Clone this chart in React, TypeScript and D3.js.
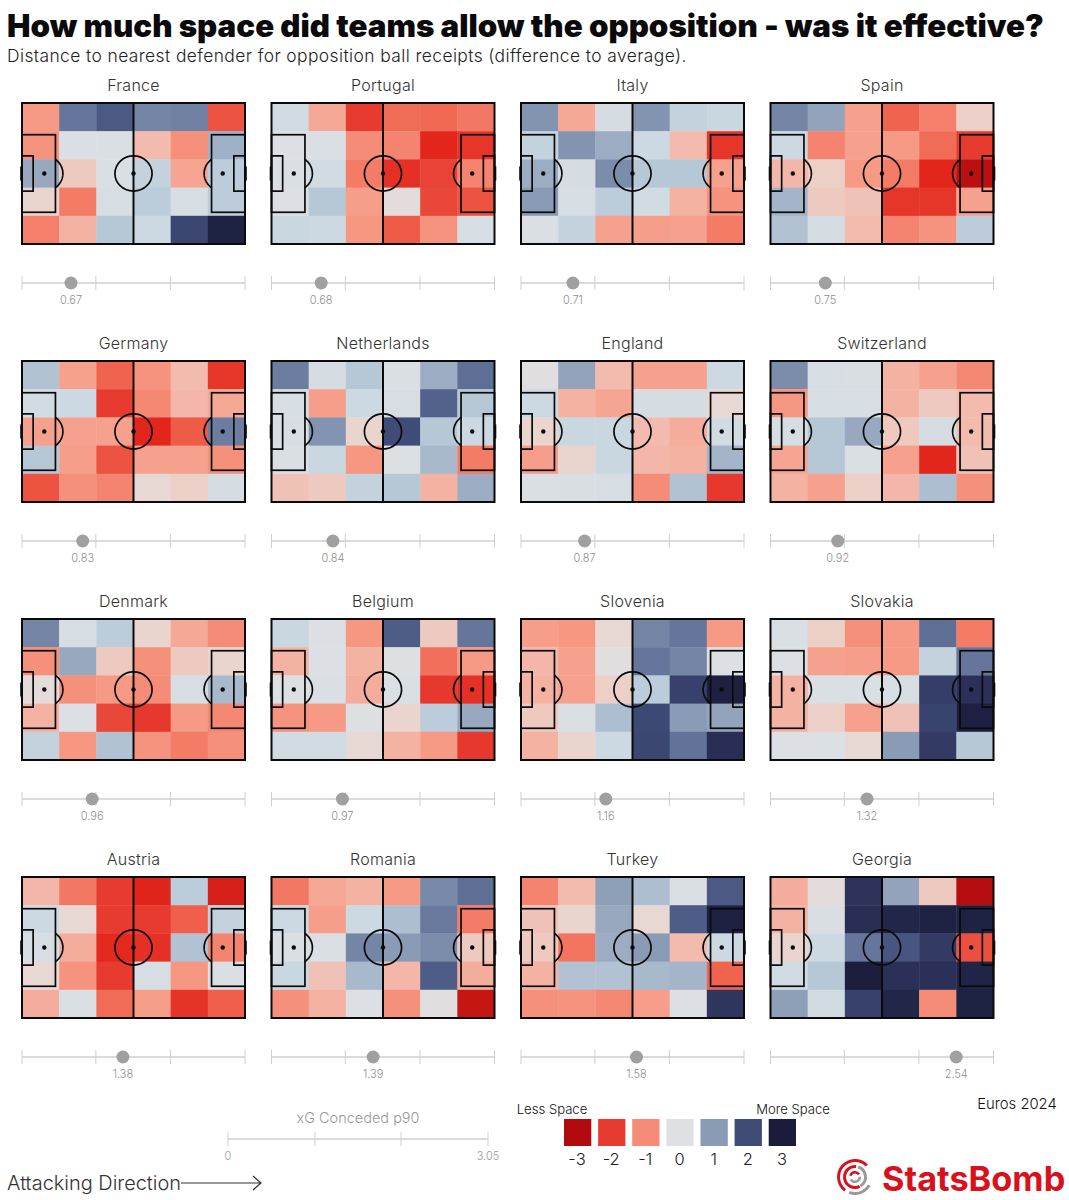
import React from "react";
import * as d3 from "d3";

const teams = ["France","Portugal","Italy","Spain","Germany","Netherlands","England","Switzerland","Denmark","Belgium","Slovenia","Slovakia","Austria","Romania","Turkey","Georgia"];
const xgConceded = [0.67,0.68,0.71,0.75,0.83,0.84,0.87,0.92,0.96,0.97,1.16,1.32,1.38,1.39,1.58,2.54];

const france = [[-0.8,1.5,1.85,1.3,1.35,-1.7],[-0.9,0.1,0.1,-0.4,-0.95,0.75],[0.85,-0.3,0.1,0.4,-0.65,0.45],[-0.2,-1.2,0.15,0.45,0.15,0.45],[-1.15,-0.5,0.5,0.3,2.1,2.85]];
const portugal = [[0.25,-0.6,-2.0,-1.4,-1.45,-1.25],[0.05,0.1,-1.0,-1.1,-2.4,-2.1],[0.1,0.25,-1.2,-2.2,-1.9,-1.1],[0.05,0.5,-0.75,-0.1,-1.85,-1.7],[0.35,0.3,-0.85,-1.6,-0.9,0.15]];
const italy = [[1.1,-0.6,0.2,1.1,0.4,0.35],[0.4,1.1,0.8,0.3,-0.4,-2.1],[0.8,0.2,1.2,0.5,0.5,-0.7],[1.0,0.15,0.45,0.25,-0.5,-0.9],[0.1,0.4,-0.7,-0.75,-0.7,-1.2]];
const spain = [[1.3,0.9,-0.7,-1.5,-1.15,-0.25],[0.3,-1.1,-0.7,-0.8,-1.4,-2.0],[-0.45,-0.25,-0.8,-1.2,-2.4,-2.9],[0.7,-0.3,-0.35,-2.1,-2.1,-0.7],[0.55,0.2,-0.4,-1.1,-0.9,0.45]];
const germany = [[0.55,-0.7,-1.5,-0.9,-0.4,-2.1],[0.25,0.3,-2.0,-1.05,-0.45,-0.6],[-0.7,-0.7,-0.7,-2.4,-1.6,1.4],[0.5,-0.75,-1.7,-0.7,-0.7,-0.95],[-1.7,-0.95,-1.1,-0.15,-0.25,0.2]];
const netherlands = [[1.4,0.2,0.5,0.1,0.8,1.6],[0.15,-0.75,0.3,0.15,1.75,0.5],[0.15,1.1,-0.2,2.0,0.5,0.3],[0.1,0.35,-0.85,0.02,0.65,-1.2],[-0.35,-0.3,0.4,0.5,-0.5,0.8]];
const england = [[-0.05,0.9,-0.4,-0.7,-0.7,0.3],[0.3,-0.5,-0.65,0.2,0.2,-0.15],[-0.2,0.35,0.35,-0.4,-0.55,0.25],[-0.75,-0.2,0.35,-0.45,-0.5,0.7],[0.1,0.12,0.15,-1.0,0.55,-2.05]];
const switzerland = [[1.2,0.15,0.12,-0.5,-0.7,-1.05],[-0.85,0.15,0.15,-0.5,-0.3,-0.4],[0.15,0.5,0.85,-0.3,0.2,-0.4],[-0.65,0.5,0.1,-0.7,-2.4,-0.35],[-0.5,-0.7,-0.25,-0.45,0.6,-0.95]];
const denmark = [[1.3,0.15,0.45,-0.2,-0.6,-1.0],[-0.95,0.85,-0.3,-0.95,-0.3,-0.2],[-0.1,-0.95,-0.8,-1.0,0.15,0.65],[-0.5,0.05,-1.85,-2.05,-0.8,-1.05],[0.4,-0.85,0.55,-0.9,-1.2,-0.95]];
const belgium = [[0.35,0.05,-0.85,1.8,-0.3,1.5],[-0.5,0.05,-0.5,0.03,-1.35,-0.8],[0.03,0.1,-0.55,0.1,-2.05,-2.2],[-0.9,-0.8,0.03,-0.2,0.45,0.85],[0.25,0.25,-0.15,-0.5,-0.8,-2.05]];
const slovenia = [[-0.75,-0.85,-0.15,1.3,1.5,-0.8],[-0.45,-0.7,-0.05,1.5,1.3,0.05],[-0.5,-0.7,-0.25,0.45,2.2,2.9],[-0.3,0.08,0.6,2.05,1.0,0.9],[-0.5,-0.2,0.3,2.1,1.55,2.55]];
const slovakia = [[0.1,-0.25,-0.95,-0.8,1.6,-1.2],[0.05,-0.7,-0.75,-0.8,0.4,1.5],[-0.5,0.1,0.1,0.15,2.25,2.5],[-0.5,-0.25,-0.7,-0.35,2.15,2.9],[0.05,0.05,-0.15,1.0,2.3,0.5]];
const austria = [[-0.45,-1.25,-2.0,-2.45,0.45,-2.55],[0.3,-0.15,-2.0,-2.0,-1.55,0.4],[0.15,-0.55,-2.35,-2.2,0.55,-1.1],[-0.15,-0.9,-2.0,0.15,-0.85,0.1],[-0.55,0.1,-1.4,-0.75,-2.15,-1.55]];
const romania = [[-1.25,-0.6,-0.5,-0.8,1.25,1.6],[0.3,-0.75,0.3,0.6,1.45,-1.2],[0.1,0.1,1.3,1.0,1.2,-0.3],[0.35,-0.35,0.65,-0.45,1.8,-0.55],[-0.95,-0.5,0.05,-0.95,-0.05,-2.75]];
const turkey = [[-1.1,-0.4,0.95,0.6,0.1,1.85],[-0.35,-0.2,0.85,-0.15,1.8,2.9],[-0.3,-1.3,0.8,1.0,-0.4,0.3],[-0.5,0.55,0.55,0.65,0.7,-1.5],[-0.95,-0.9,-1.05,-0.75,0.05,2.4]];
const georgia = [[-0.55,-0.1,2.45,0.9,-0.3,-2.95],[-0.5,0.12,2.55,2.75,2.85,2.85],[-0.2,0.3,1.5,1.9,2.3,-1.75],[0.25,0.5,2.95,2.5,2.5,2.8],[0.95,0.25,2.2,2.75,-1.0,2.85]];
const grids = [france,portugal,italy,spain,germany,netherlands,england,switzerland,denmark,belgium,slovenia,slovakia,austria,romania,turkey,georgia];

const colorStops = [-3,-2.4,-2,-1.6,-1.3,-1,-0.8,-0.6,-0.4,-0.25,-0.1,0,0.2,0.35,0.5,0.75,1,1.4,1.7,2,2.5,3];
const colorValues = ["#b20b0f","#e3261c","#e63b2e","#ee5b47","#f3745f","#f58c77","#f69a86","#f5a896","#f2bbae","#ecd0c8","#e4dcda","#dee0e3","#d5dde3","#c9d7e1","#b6c7d6","#a0b0c6","#8a9bb5","#6d7da0","#566690","#3f4c78","#2b3058","#191c3a"];
const legendValues = [-3,-2,-1,0,1,2,3];
const xgTicks = [0,1.01,2.03,3.05];
const legendXgTicks = [0,1.02,2.03,3.05];
const color = d3.scaleLinear<string>().domain(colorStops).range(colorValues);

const PW = 223, PH = 141;
const colLeft = [22, 271.5, 521, 770.5];
const rowTop = [103, 361, 619, 877];
const FONT = "Inter, 'Noto Sans', sans-serif";

const sx = d3.scaleLinear().domain([0,120]).range([0,PW]);
const sy = d3.scaleLinear().domain([0,80]).range([0,PH]);
const cellX = d3.scaleBand<number>().domain(d3.range(6)).range([0,PW]);
const cellY = d3.scaleBand<number>().domain(d3.range(5)).range([0,PH]);

function arcPath(cx:number, from:number, to:number){
  const pts = d3.range(from, to + 0.001, (to-from)/40).map(a => [sx(cx + 10*Math.cos(a)), sy(40 + 10*Math.sin(a))] as [number,number]);
  return d3.line()(pts) as string;
}
const boxes = [[0,18,18,44],[0,30,6,20],[102,18,18,44],[114,30,6,20]];
const spots = [12,60,108];
const arcA = Math.acos(0.6);

function Pitch({idx}:{idx:number}){
  const x0 = colLeft[idx%4], y0 = rowTop[Math.floor(idx/4)];
  const xg = d3.scaleLinear().domain([0,3.05]).range([x0,x0+PW]);
  const axisY = y0+180;
  return (
    <g>
      <text x={x0+PW/2} y={y0-11.7} textAnchor="middle" fontSize={16} fontWeight={300} fill="#333" fontFamily={FONT} letterSpacing={0.25}>{teams[idx]}</text>
      <g transform={`translate(${x0},${y0})`}>
        {grids[idx].map((row,r)=>row.map((v,c)=>(
          <rect key={`${r}-${c}`} x={cellX(c)} y={cellY(r)} width={cellX.bandwidth()+0.4} height={cellY.bandwidth()+0.4} fill={color(v)} />
        )))}
        <g fill="none" stroke="#0a0a0a" strokeWidth={1.7}>
          {boxes.map((b,i)=><rect key={i} x={sx(b[0])} y={sy(b[1])} width={sx(b[2])} height={sy(b[3])}/>)}
          <line x1={sx(60)} x2={sx(60)} y1={sy(0)} y2={sy(80)} strokeWidth={2}/>
          <ellipse cx={sx(60)} cy={sy(40)} rx={sx(10)} ry={sy(10)}/>
          <path d={arcPath(12,-arcA,arcA)}/>
          <path d={arcPath(108,Math.PI-arcA,Math.PI+arcA)}/>
          <rect x={0} y={0} width={PW} height={PH} strokeWidth={2}/>
          <line x1={-0.8} x2={-0.8} y1={sy(36)} y2={sy(44)} strokeWidth={2}/>
          <line x1={PW+0.8} x2={PW+0.8} y1={sy(36)} y2={sy(44)} strokeWidth={2}/>
        </g>
        {spots.map(s=><circle key={s} cx={sx(s)} cy={sy(40)} r={2.2} fill="#0a0a0a"/>)}
      </g>
      <line x1={xg(0)} x2={xg(3.05)} y1={axisY} y2={axisY} stroke="#cfcfcf" strokeWidth={1.5}/>
      {xgTicks.map(t=><line key={t} x1={xg(t)} x2={xg(t)} y1={axisY-7} y2={axisY+7} stroke="#cfcfcf" strokeWidth={1}/>)}
      <circle cx={xg(xgConceded[idx])} cy={axisY} r={6.5} fill="#a0a0a0"/>
      <text x={xg(xgConceded[idx])} y={axisY+20.5} textAnchor="middle" fontSize={11} fontWeight={300} fill="#8f8f8f" fontFamily={FONT}>{xgConceded[idx].toFixed(2)}</text>
    </g>
  );
}

const legX = d3.scaleBand<number>().domain(legendValues).range([564,796]).paddingInner(0.2).paddingOuter(0);
const legendXg = d3.scaleLinear().domain([0,3.05]).range([228,488]);
const legendLabelX = d3.scaleLinear().domain([-3,3]).range([577,782]);

const logoArcs = [
  {inner:15,outer:18,start:-2.5,end:0.8,fill:"#d9111c"},
  {inner:15,outer:18,start:2.1,end:3.5,fill:"#9a9a9a"},
  {inner:9,outer:12,start:-3.6,end:0.1,fill:"#d9111c"},
  {inner:9,outer:12,start:0.3,end:2.6,fill:"#9a9a9a"},
  {inner:3.5,outer:6,start:-1.3,end:1.0,fill:"#d9111c"},
  {inner:3.5,outer:6,start:1.5,end:4.2,fill:"#9a9a9a"},
];

export default function App(){
  return (
    <svg width={1069} height={1200} viewBox="0 0 1069 1200" style={{position:"absolute",left:0,top:0,background:"#fff"}}>
      <text x={7} y={36.5} fontSize={31.3} fontWeight={900} fill="#0a0a0a" fontFamily={FONT}>How much space did teams allow the opposition - was it effective?</text>
      <text x={7} y={62} fontSize={17.4} fontWeight={300} fill="#222" fontFamily={FONT} letterSpacing={0.41}>Distance to nearest defender for opposition ball receipts (difference to average).</text>
      {teams.map((t,i)=><Pitch key={t} idx={i}/>)}

      <text x={358} y={1123} textAnchor="middle" fontSize={14.5} fontWeight={300} fill="#999" fontFamily={FONT}>xG Conceded p90</text>
      <line x1={legendXg(0)} x2={legendXg(3.05)} y1={1139} y2={1139} stroke="#cfcfcf" strokeWidth={1.5}/>
      {legendXgTicks.map(t=><line key={t} x1={legendXg(t)} x2={legendXg(t)} y1={1132} y2={1146} stroke="#cfcfcf" strokeWidth={1}/>)}
      <text x={legendXg(0)} y={1160} textAnchor="middle" fontSize={11} fontWeight={300} fill="#999" fontFamily={FONT}>0</text>
      <text x={legendXg(3.05)} y={1160} textAnchor="middle" fontSize={11} fontWeight={300} fill="#999" fontFamily={FONT}>3.05</text>

      <text x={7} y={1190} fontSize={19.95} fontWeight={300} fill="#333" fontFamily={FONT}>Attacking Direction</text>
      <path d="M181,1183 H261 M253,1176 L261,1183 L253,1190" fill="none" stroke="#333" strokeWidth={1.2}/>

      <text x={552} y={1114} textAnchor="middle" fontSize={13.1} fontWeight={300} fill="#111" fontFamily={FONT}>Less Space</text>
      <text x={793} y={1114} textAnchor="middle" fontSize={13.1} fontWeight={300} fill="#111" fontFamily={FONT}>More Space</text>
      <text x={1017} y={1109} textAnchor="middle" fontSize={14.8} fontWeight={300} fill="#111" fontFamily={FONT}>Euros 2024</text>
      {legendValues.map(v=>(
        <g key={v}>
          <rect x={legX(v)} y={1119} width={legX.bandwidth()} height={27} fill={color(v)}/>
          <text x={legendLabelX(v)} y={1165} textAnchor="middle" fontSize={16.5} fontWeight={300} fill="#222" fontFamily={FONT}>{v}</text>
        </g>
      ))}

      <g transform="translate(855,1177)">
        {logoArcs.map((a,i)=>(
          <path key={i} d={d3.arc()({innerRadius:a.inner,outerRadius:a.outer,startAngle:a.start,endAngle:a.end} as any) as string} fill={a.fill}/>
        ))}
      </g>
      <text x={882} y={1191} fontSize={34.3} fontWeight={700} fill="#d9111c" fontFamily={FONT}>StatsBomb</text>
    </svg>
  );
}
